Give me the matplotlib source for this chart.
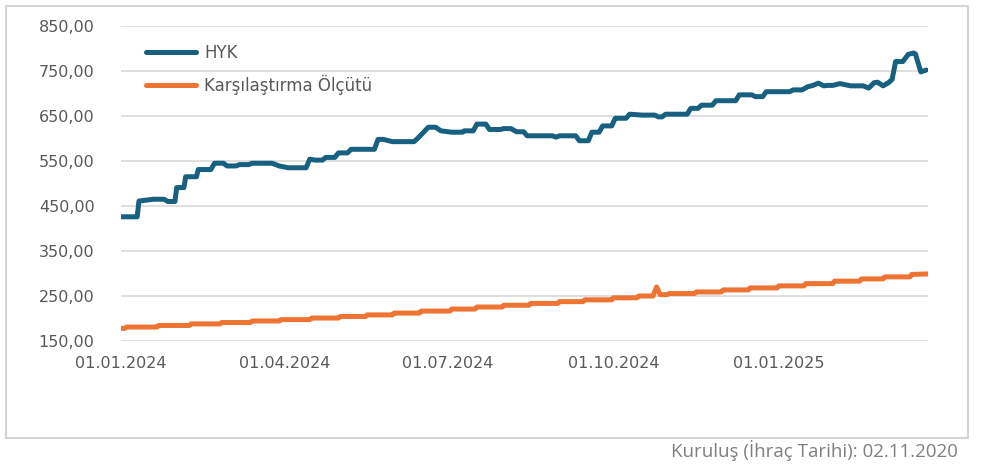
import matplotlib
matplotlib.use("Agg")
import matplotlib.pyplot as plt
from matplotlib.patches import Rectangle
import pandas as pd

# Fund price (HYK) – vertices of the daily price path
hyk_dates = [
    "2024-01-01", "2024-01-10", "2024-01-11", "2024-01-15", "2024-01-19", "2024-01-25",
    "2024-01-27", "2024-01-31", "2024-02-01", "2024-02-05", "2024-02-06", "2024-02-12",
    "2024-02-13", "2024-02-20", "2024-02-22", "2024-02-27", "2024-02-29", "2024-03-05",
    "2024-03-07", "2024-03-12", "2024-03-14", "2024-03-25", "2024-03-29", "2024-04-03",
    "2024-04-13", "2024-04-15", "2024-04-18", "2024-04-22", "2024-04-24", "2024-04-29",
    "2024-05-01", "2024-05-06", "2024-05-08", "2024-05-21", "2024-05-23", "2024-05-26",
    "2024-05-31", "2024-06-12", "2024-06-14", "2024-06-20", "2024-06-24", "2024-06-27",
    "2024-07-03", "2024-07-09", "2024-07-10", "2024-07-15", "2024-07-17", "2024-07-22",
    "2024-07-24", "2024-07-30", "2024-08-01", "2024-08-05", "2024-08-08", "2024-08-12",
    "2024-08-14", "2024-08-28", "2024-08-30", "2024-09-01", "2024-09-10", "2024-09-12",
    "2024-09-17", "2024-09-19", "2024-09-23", "2024-09-25", "2024-09-30", "2024-10-02",
    "2024-10-08", "2024-10-10", "2024-10-17", "2024-10-24", "2024-10-26", "2024-10-28",
    "2024-10-30", "2024-11-11", "2024-11-13", "2024-11-17", "2024-11-19", "2024-11-25",
    "2024-11-27", "2024-12-08", "2024-12-10", "2024-12-17", "2024-12-19", "2024-12-23",
    "2024-12-25", "2025-01-07", "2025-01-09", "2025-01-14", "2025-01-17", "2025-01-20",
    "2025-01-23", "2025-01-26", "2025-01-28", "2025-01-31", "2025-02-04", "2025-02-10",
    "2025-02-17", "2025-02-20", "2025-02-23", "2025-02-25", "2025-02-28", "2025-03-03",
    "2025-03-05", "2025-03-07", "2025-03-11", "2025-03-14", "2025-03-17", "2025-03-18",
    "2025-03-21", "2025-03-24",
]
hyk_values = [
    426, 426, 461, 463, 465, 465,
    460, 460, 491, 491, 515, 515,
    531, 531, 545, 545, 539, 539,
    542, 542, 545, 545, 539, 535,
    535, 554, 552, 552, 558, 558,
    568, 568, 576, 576, 598, 598,
    593, 593, 600, 625, 625, 617,
    614, 614, 617, 617, 632, 632,
    620, 620, 622, 622, 615, 615,
    606, 606, 603, 606, 606, 595,
    595, 614, 614, 628, 628, 645,
    645, 654, 652, 652, 648, 648,
    654, 654, 667, 667, 674, 674,
    684, 684, 697, 697, 693, 693,
    704, 704, 708, 708, 715, 718,
    723, 717, 718, 718, 722, 717,
    717, 712, 724, 725, 717, 724,
    731, 771, 771, 787, 790, 788,
    748, 752,
]

# Benchmark (Karşılaştırma Ölçütü)
bench_dates = [
    "2024-01-01", "2024-01-03", "2024-01-04", "2024-01-21", "2024-01-22", "2024-02-08",
    "2024-02-09", "2024-02-25", "2024-02-26", "2024-03-13", "2024-03-14", "2024-03-29",
    "2024-03-30", "2024-04-15", "2024-04-16", "2024-05-01", "2024-05-02", "2024-05-16",
    "2024-05-17", "2024-05-31", "2024-06-01", "2024-06-15", "2024-06-16", "2024-07-02",
    "2024-07-03", "2024-07-16", "2024-07-17", "2024-07-31", "2024-08-01", "2024-08-15",
    "2024-08-16", "2024-08-31", "2024-09-01", "2024-09-14", "2024-09-15", "2024-09-30",
    "2024-10-01", "2024-10-14", "2024-10-15", "2024-10-23", "2024-10-25", "2024-10-27",
    "2024-10-31", "2024-11-01", "2024-11-15", "2024-11-16", "2024-11-30", "2024-12-01",
    "2024-12-15", "2024-12-16", "2024-12-31", "2025-01-01", "2025-01-15", "2025-01-16",
    "2025-01-31", "2025-02-01", "2025-02-15", "2025-02-16", "2025-02-28", "2025-03-01",
    "2025-03-15", "2025-03-16", "2025-03-25",
]
bench_values = [
    178, 178, 181, 181, 184.5, 184.5,
    188, 188, 191, 191, 194.5, 194.5,
    197.5, 197.5, 201, 201, 204.5, 204.5,
    208, 208, 212, 212, 216.5, 216.5,
    221, 221, 225.5, 225.5, 229.5, 229.5,
    233.5, 233.5, 237.5, 237.5, 241.5, 241.5,
    246, 246, 250, 250, 270, 253,
    253, 255.5, 255.5, 259, 259, 263.5,
    263.5, 268, 268, 272.5, 272.5, 277.5,
    277.5, 283, 283, 288, 288, 292.5,
    292.5, 298, 299,
]

series_labels = ["HYK", "Karşılaştırma Ölçütü"]
y_ticks = [150, 250, 350, 450, 550, 650, 750, 850]
x_tick_dates = ["2024-01-01", "2024-04-01", "2024-07-01", "2024-10-01", "2025-01-01"]
footnote = "Kuruluş (İhraç Tarihi): 02.11.2020"

plt.rcParams["font.family"] = ["DejaVu Sans"]

W, H = 981, 466
fig = plt.figure(figsize=(W / 100, H / 100), dpi=100)

# outer chart frame
fig.patches.append(Rectangle((5.5 / W, 1 - 437.5 / H), 962 / W, 431.5 / H,
                             transform=fig.transFigure, fill=False,
                             edgecolor="#D4D4D4", linewidth=1.5))

ax = fig.add_axes([121 / W, 1 - 341 / H, (928 - 121) / W, (341 - 26) / H])

hx = pd.to_datetime(hyk_dates)
bx = pd.to_datetime(bench_dates)
ax.plot(hx, hyk_values, color="#17607F", linewidth=3.6, solid_capstyle="round",
        solid_joinstyle="round", label=series_labels[0], zorder=3)
ax.plot(bx, bench_values, color="#ED7432", linewidth=3.6, solid_capstyle="round",
        solid_joinstyle="round", label=series_labels[1], zorder=3)

ax.set_ylim(150, 850)
ax.set_xlim(pd.Timestamp("2024-01-01"), pd.Timestamp("2025-03-25"))
ax.set_yticks(y_ticks)
ax.set_yticklabels([f"{v:.2f}".replace(".", ",") for v in y_ticks])
xt = pd.to_datetime(x_tick_dates)
ax.set_xticks(xt)
ax.set_xticklabels([d.strftime("%d.%m.%Y") for d in xt])

ax.grid(axis="y", color="#D9D9D9", linewidth=1.2)
ax.set_axisbelow(True)
for s in ax.spines.values():
    s.set_visible(False)
ax.tick_params(axis="both", length=0, colors="#595959", labelsize=11.5)
ax.tick_params(axis="y", pad=19)
ax.tick_params(axis="x", pad=11)

leg = ax.legend(loc="upper left", bbox_to_anchor=(0.012, 0.99), frameon=False,
                fontsize=12, handlelength=3.0, handletextpad=0.5,
                labelspacing=0.78, labelcolor="#595959")

fig.text(958 / W, 1 - 451 / H, footnote, ha="right", va="center",
         fontsize=13.5, color="#7F7F7F", family=["Open Sans", "DejaVu Sans"])

fig.savefig("out.png", dpi=100)
